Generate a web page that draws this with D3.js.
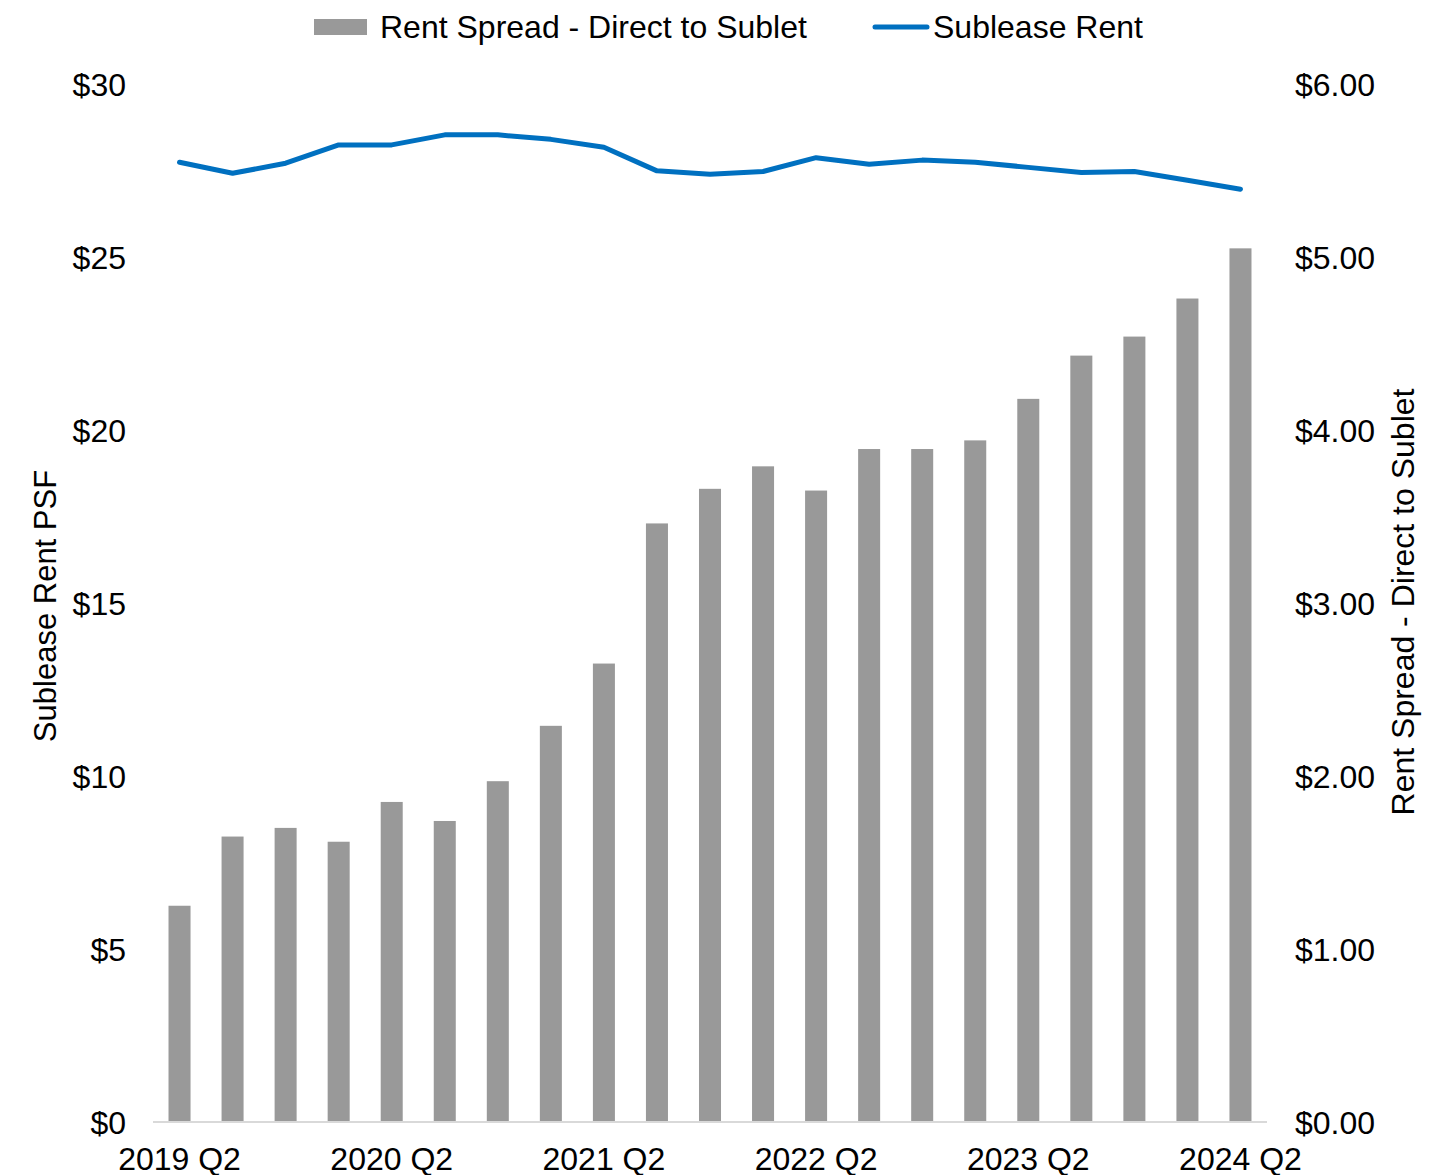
<!DOCTYPE html>
<html>
<head>
<meta charset="utf-8">
<script src="https://cdn.jsdelivr.net/npm/d3@7"></script>
<style>
  body { margin: 0; background: #fff; }
  svg text { font-family: "Liberation Sans", Arial, sans-serif; fill: #000; }
</style>
</head>
<body>
<svg width="1456" height="1175"></svg>
<script>
// quarters from 2019 Q2 to 2024 Q2
var quarters = [
    "2019 Q2", "2019 Q3", "2019 Q4", "2020 Q1", "2020 Q2", "2020 Q3", "2020 Q4",
    "2021 Q1", "2021 Q2", "2021 Q3", "2021 Q4", "2022 Q1", "2022 Q2", "2022 Q3",
    "2022 Q4", "2023 Q1", "2023 Q2", "2023 Q3", "2023 Q4", "2024 Q1", "2024 Q2"
];

// Rent Spread - Direct to Sublet (right axis)
var rentSpread = [
    1.25, 1.65, 1.70, 1.62, 1.85, 1.74, 1.97, 2.29, 2.65, 3.46, 3.66,
    3.79, 3.65, 3.89, 3.89, 3.94, 4.18, 4.43, 4.54, 4.76, 5.05
];

// Sublease Rent (left axis)
var subleaseRent = [
    27.74, 27.42, 27.71, 28.24, 28.24, 28.53, 28.53, 28.40, 28.17, 27.49, 27.39,
    27.47, 27.87, 27.68, 27.80, 27.74, 27.59, 27.44, 27.47, 27.22, 26.96
];

var leftTicks = [0, 5, 10, 15, 20, 25, 30];
var rightTicks = [0, 1, 2, 3, 4, 5, 6];

var svg = d3.select("svg");
var fontSize = 32;

var x = d3.scaleBand()
    .domain(quarters)
    .range([153, 1267])
    .paddingInner(0.585)
    .paddingOuter(0.2925);

var yLeft = d3.scaleLinear().domain([0, 30]).range([1122, 84]);
var yRight = d3.scaleLinear().domain([0, 6]).range([1122, 84]);

// bars
svg.append("g")
    .selectAll("rect")
    .data(rentSpread)
    .enter().append("rect")
    .attr("x", function (d, i) { return x(quarters[i]); })
    .attr("width", x.bandwidth())
    .attr("y", function (d) { return yRight(d); })
    .attr("height", function (d) { return yRight(0) - yRight(d); })
    .attr("fill", "#999999");

// x axis baseline
svg.append("line")
    .attr("x1", 153).attr("x2", 1267)
    .attr("y1", yLeft(0)).attr("y2", yLeft(0))
    .attr("stroke", "#d9d9d9")
    .attr("stroke-width", 2);

// sublease line
var line = d3.line()
    .x(function (d, i) { return x(quarters[i]) + x.bandwidth() / 2; })
    .y(function (d) { return yLeft(d); });

svg.append("path")
    .datum(subleaseRent)
    .attr("fill", "none")
    .attr("stroke", "#0070c0")
    .attr("stroke-width", 5)
    .attr("stroke-linecap", "round")
    .attr("stroke-linejoin", "round")
    .attr("d", line);

// left axis
var leftAxis = d3.axisLeft(yLeft)
    .tickValues(leftTicks)
    .tickSize(0)
    .tickPadding(0)
    .tickFormat(function (d) { return "$" + d; });

var gl = svg.append("g").attr("transform", "translate(126,0)").call(leftAxis);
gl.select(".domain").remove();
gl.selectAll("text").style("font-size", fontSize + "px").attr("fill", "#000").attr("dy", "0.35em");

// right axis
var rightAxis = d3.axisRight(yRight)
    .tickValues(rightTicks)
    .tickSize(0)
    .tickPadding(0)
    .tickFormat(function (d) { return "$" + d3.format(".2f")(d); });

var gr = svg.append("g").attr("transform", "translate(1295,0)").call(rightAxis);
gr.select(".domain").remove();
gr.selectAll("text").style("font-size", fontSize + "px").attr("fill", "#000").attr("dy", "0.35em");

// x labels, every fourth quarter
svg.append("g")
    .selectAll("text")
    .data(quarters.filter(function (d, i) { return i % 4 === 0; }))
    .enter().append("text")
    .attr("x", function (d) { return x(d) + x.bandwidth() / 2; })
    .attr("y", 1170)
    .attr("text-anchor", "middle")
    .style("font-size", fontSize + "px")
    .text(function (d) { return d; });

// axis titles
svg.append("text")
    .attr("transform", "translate(56,606) rotate(-90)")
    .attr("text-anchor", "middle")
    .style("font-size", "31px")
    .text("Sublease Rent PSF");

svg.append("text")
    .attr("transform", "translate(1414,602) rotate(-90)")
    .attr("text-anchor", "middle")
    .style("font-size", fontSize + "px")
    .text("Rent Spread - Direct to Sublet");

// legend
var legend = svg.append("g");
legend.append("rect")
    .attr("x", 314).attr("y", 19)
    .attr("width", 53).attr("height", 16)
    .attr("fill", "#999999");
legend.append("text")
    .attr("x", 380).attr("y", 38)
    .style("font-size", fontSize + "px")
    .text("Rent Spread - Direct to Sublet");
legend.append("line")
    .attr("x1", 875).attr("x2", 927)
    .attr("y1", 27).attr("y2", 27)
    .attr("stroke", "#0070c0")
    .attr("stroke-width", 5)
    .attr("stroke-linecap", "round");
legend.append("text")
    .attr("x", 933).attr("y", 38)
    .style("font-size", fontSize + "px")
    .text("Sublease Rent");
</script>
</body>
</html>
